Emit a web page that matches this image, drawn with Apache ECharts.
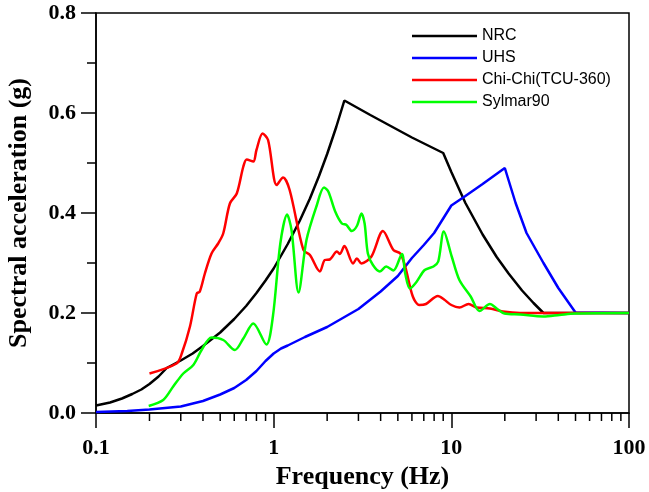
<!DOCTYPE html>
<html>
<head>
<meta charset="utf-8">
<script src="https://cdn.jsdelivr.net/npm/echarts@6/dist/echarts.min.js"></script>
<style>html,body{margin:0;padding:0;background:#fff;}#c{width:649px;height:492px;}</style>
</head>
<body>
<div id="c"></div>
<script>
// ---- data ----
const nrcFreq = [0.1,0.12,0.14,0.16,0.18,0.2,0.225,0.25,0.3,0.35,0.4,0.5,0.6,0.7,0.8,0.9,1.0,1.2,1.4,1.6,1.8,2.0,2.25,2.5,3.5,4.5,6,8,9,10,12,15,18,21,25,29,33,50,100];
const nrcVal  = [0.015,0.021,0.029,0.038,0.047,0.058,0.073,0.09,0.105,0.119,0.134,0.161,0.188,0.214,0.240,0.265,0.289,0.338,0.384,0.429,0.474,0.518,0.572,0.625,0.596,0.575,0.551,0.529,0.52,0.482,0.42,0.357,0.312,0.279,0.245,0.22,0.2,0.2,0.2];

const uhsFreq = [0.1,0.15,0.2,0.3,0.4,0.5,0.6,0.7,0.8,0.9,1.0,1.1,1.2,1.5,2,3,4,5,6,7,8,10,12,15,20,23,26.5,30,33,40,50,100];
const uhsVal  = [0.002,0.004,0.007,0.013,0.024,0.037,0.05,0.066,0.084,0.104,0.119,0.129,0.135,0.152,0.172,0.208,0.243,0.274,0.31,0.336,0.36,0.415,0.434,0.458,0.49,0.42,0.36,0.326,0.3,0.25,0.201,0.2];

const chichiFreq = [0.2,0.284,0.304,0.338,0.369,0.384,0.41,0.447,0.487,0.52,0.567,0.62,0.675,0.705,0.768,0.8,0.866,0.93,1.04,1.13,1.23,1.47,1.6,1.82,1.94,2.07,2.27,2.36,2.5,2.8,2.94,3.12,3.55,4.12,4.72,5.16,5.5,6.07,6.6,7.2,8.4,9.1,10,11.1,12.5,13.9,16.5,19.5,24.4,33,100];
const chichiVal  = [0.079,0.099,0.119,0.173,0.239,0.243,0.279,0.319,0.339,0.359,0.419,0.439,0.493,0.507,0.503,0.526,0.559,0.546,0.456,0.471,0.446,0.326,0.316,0.283,0.306,0.307,0.323,0.318,0.334,0.299,0.309,0.299,0.313,0.364,0.326,0.319,0.293,0.233,0.216,0.218,0.234,0.227,0.216,0.211,0.218,0.211,0.209,0.203,0.2,0.2,0.2];

const sylmarFreq = [0.198,0.239,0.272,0.31,0.353,0.393,0.447,0.52,0.605,0.675,0.768,0.91,0.99,1.09,1.19,1.26,1.38,1.53,1.74,1.92,2.03,2.22,2.42,2.57,2.75,2.94,3.12,3.25,3.39,3.62,3.96,4.3,4.72,5.27,5.5,5.85,6.39,7.08,7.93,8.44,9.07,10.05,11.1,12.85,14.4,16.5,18,19.9,24.4,33,40.6,49.6,100];
const sylmarVal  = [0.014,0.026,0.053,0.079,0.096,0.126,0.151,0.146,0.126,0.149,0.179,0.137,0.193,0.339,0.397,0.366,0.241,0.346,0.413,0.451,0.443,0.403,0.379,0.376,0.364,0.374,0.399,0.379,0.319,0.296,0.283,0.293,0.285,0.318,0.279,0.249,0.263,0.286,0.293,0.303,0.363,0.313,0.266,0.233,0.204,0.218,0.209,0.199,0.197,0.193,0.196,0.199,0.2];

const seriesNames = ['NRC','UHS','Chi-Chi(TCU-360)','Sylmar90'];
const xMinorTicks = [0.2,0.3,0.4,0.5,0.6,0.7,0.8,0.9,2,3,4,5,6,7,8,9,20,30,40,50,60,70,80,90];

const zip = (a,b) => a.map((v,i)=>[v,b[i]]);
const serif = 'Liberation Serif, Times New Roman, serif';
const sans = 'Liberation Sans, Arial, sans-serif';

const chart = echarts.init(document.getElementById('c'), null, {renderer:'canvas'});
chart.setOption({
  animation:false,
  backgroundColor:'#fff',
  grid:{left:96,right:20,top:13,bottom:79,containLabel:false,outerBoundsMode:'none',
        show:true,borderColor:'#000',borderWidth:1.5,backgroundColor:'transparent'},
  legend:{
    orient:'vertical', left:407, top:23, itemWidth:65, itemHeight:14, itemGap:6,
    icon:'path://M0,0 L65,0 L65,2.6 L0,2.6 Z',
    data:seriesNames,
    textStyle:{fontFamily:sans,fontSize:16,color:'#000'}
  },
  xAxis:{
    type:'log', logBase:10, min:0.1, max:100,
    name:'Frequency (Hz)', nameLocation:'middle', nameGap:44,
    nameTextStyle:{fontFamily:serif,fontWeight:'bold',fontSize:26,color:'#000'},
    axisLine:{show:true,onZero:false,lineStyle:{color:'#000',width:1.5}},
    axisTick:{show:true,inside:false,length:15,lineStyle:{color:'#000',width:1.5}},
    minorTick:{show:false},
    splitLine:{show:false},
    axisLabel:{margin:24,fontFamily:serif,fontWeight:'bold',fontSize:22,color:'#000',
      formatter:v=>String(+v.toPrecision(3))}
  },
  yAxis:{
    type:'value', min:0, max:0.8, interval:0.2,
    name:'Spectral acceleration (g)', nameLocation:'middle', nameGap:64,
    nameTextStyle:{fontFamily:serif,fontWeight:'bold',fontSize:26,color:'#000'},
    axisLine:{show:true,lineStyle:{color:'#000',width:1.5}},
    axisTick:{show:true,inside:false,length:15,lineStyle:{color:'#000',width:1.5}},
    minorTick:{show:true,splitNumber:2,length:9,lineStyle:{color:'#000',width:1.5}},
    splitLine:{show:false},
    axisLabel:{margin:20,fontFamily:serif,fontWeight:'bold',fontSize:22,color:'#000',
      formatter:v=>v.toFixed(1)}
  },
  series:[
    {name:'NRC',type:'line',data:zip(nrcFreq,nrcVal),symbol:'none',lineStyle:{color:'#000',width:2.5},itemStyle:{color:'#000'}},
    {name:'UHS',type:'line',data:zip(uhsFreq,uhsVal),symbol:'none',lineStyle:{color:'#0000ff',width:2.5},itemStyle:{color:'#0000ff'}},
    {name:'Chi-Chi(TCU-360)',type:'line',data:zip(chichiFreq,chichiVal),symbol:'none',smooth:0.3,lineStyle:{color:'#ff0000',width:2.5},itemStyle:{color:'#ff0000'}},
    {name:'Sylmar90',type:'line',data:zip(sylmarFreq,sylmarVal),symbol:'none',smooth:0.3,lineStyle:{color:'#00ff00',width:2.5},itemStyle:{color:'#00ff00'}},
    {
      type:'custom', silent:true, clip:false,
      data:xMinorTicks.map(v=>[v,0]),
      encode:{x:0,y:1},
      renderItem:function(params, api){
        const p = api.coord([api.value(0), 0]);
        return {type:'line', shape:{x1:p[0],y1:p[1],x2:p[0],y2:p[1]+8}, style:{stroke:'#000',lineWidth:1.5}};
      }
    }
  ]
});
</script>
</body>
</html>
